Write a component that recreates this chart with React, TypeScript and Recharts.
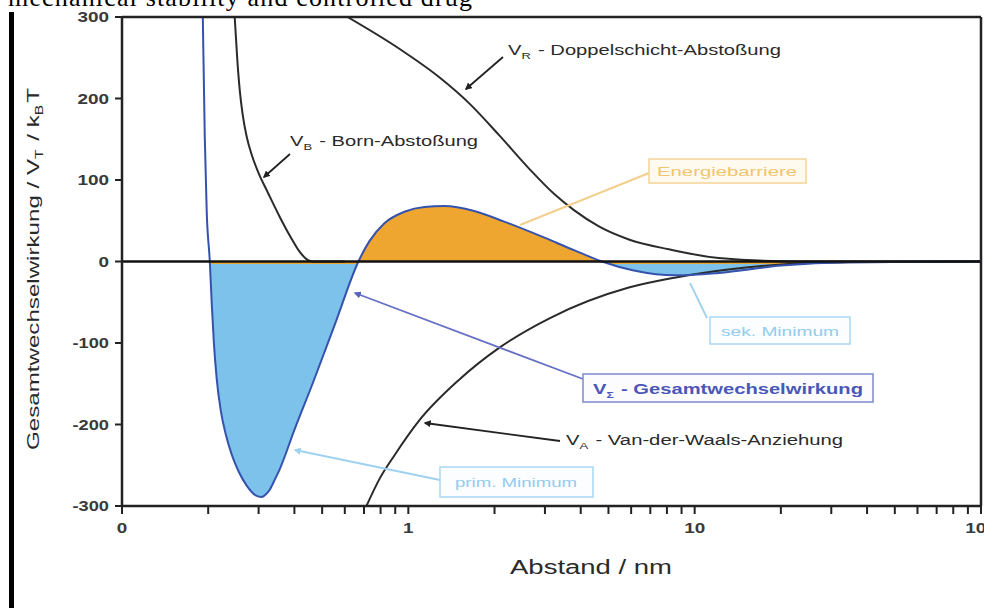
import React from "react";
import { ComposedChart, Line, Area, XAxis, YAxis, ReferenceLine } from "recharts";

const W = 984;
const H = 608;
const FONT = "'Liberation Sans', Arial, Helvetica, sans-serif";

// distance axis (nm, log) and energy axis (V/kT)
const xTicks = [
  0.1, 0.2, 0.3, 0.4, 0.5, 0.6, 0.7, 0.8, 0.9,
  1, 2, 3, 4, 5, 6, 7, 8, 9,
  10, 20, 30, 40, 50, 60, 70, 80, 90, 100,
];
const xTickLabels: Record<number, string> = { 0.1: "0", 1: "1", 10: "10", 100: "100" };
const yTicks = [-300, -200, -100, 0, 100, 200, 300];

// V_B - Born repulsion
const bornX = [0.2475, 0.2527, 0.2578, 0.264, 0.2726, 0.2838, 0.3002, 0.3227, 0.3553, 0.388, 0.4171, 0.4447, 0.4667, 0.6];
const bornY = [300, 248, 210, 180, 153, 131, 108, 85, 55, 30, 12, 2, 0, 0];

// V_R - double layer repulsion
const repX = [0.613, 0.93, 1.283, 1.632, 2.075, 2.64, 3.226, 3.788, 4.629, 5.889, 8.118, 12.12, 23.03, 100];
const repY = [300, 261, 226, 194, 155, 114, 83, 63, 43, 27, 15, 4.3, 0, 0];

// V_A - van der Waals attraction
const vdwX = [0.714, 0.7924, 0.8938, 1.092, 1.505, 2.075, 3.099, 5.889, 8.587, 13.1, 20.1, 34.4, 100];
const vdwY = [-300, -267, -238, -195, -145, -106, -70, -32, -19.6, -9.8, -3.7, -1, 0];

// V_T - total interaction
const totalX = [
  0.1915, 0.1946, 0.1977, 0.2026, 0.2058, 0.2092, 0.2143, 0.2213, 0.2303, 0.2417,
  0.2557, 0.2726, 0.293, 0.3075, 0.3174, 0.328, 0.3413, 0.3553, 0.4007, 0.4629,
  0.5568, 0.6694, 0.7313, 0.8249, 0.9684, 1.137, 1.335, 1.698, 2.16, 2.861,
  3.788, 4.742, 6.13, 8.587, 12.12, 20.1, 34.4, 100,
];
const totalY = [
  300, 152, 60, 0, -52, -98, -145, -183, -212, -237,
  -258, -275, -287, -289, -286, -280, -268, -255, -206, -150,
  -75, 0, 25, 47, 61, 67, 68, 62, 49, 32,
  14, 0, -11, -17, -14, -5, -1, 0,
];

const rows = (xs: number[], ys: number[]) => xs.map((x, i) => ({ x, y: ys[i] }));
const born = rows(bornX, bornY);
const repulsion = rows(repX, repY);
const vdw = rows(vdwX, vdwY);
const total = rows(totalX, totalY);
const totalFill = total.filter((p) => p.x >= 0.2026);

const labelWidth = (s: string) => s.replace("-", "").length * 10.5 + (s.startsWith("-") ? 5 : 0);

const XTick = (props: any) => {
  const { x, y, payload } = props;
  const label = xTickLabels[payload.value];
  if (!label) return null;
  return (
    <text x={x} y={y} dy={19} textAnchor="middle" fontSize={14} fontWeight="bold" fill="#3a3a3a" fontFamily={FONT}
      textLength={labelWidth(label)} lengthAdjust="spacingAndGlyphs">
      {label}
    </text>
  );
};

const YTick = (props: any) => {
  const { x, y, payload } = props;
  const label = String(payload.value);
  return (
    <text x={x} y={y} dy={5} textAnchor="end" fontSize={14} fontWeight="bold" fill="#3a3a3a" fontFamily={FONT}
      textLength={labelWidth(label)} lengthAdjust="spacingAndGlyphs">
      {label}
    </text>
  );
};

const Sub = ({ children, size = 9 }: { children: string; size?: number }) => (
  <>
    <tspan dy={4} fontSize={size}>{children}</tspan>
    <tspan dy={-4}>{"\u200a"}</tspan>
  </>
);

export default function App() {
  return (
    <div style={{ position: "absolute", left: 0, top: 0, width: W, height: H, background: "#fff", overflow: "hidden" }}>
      <ComposedChart width={W} height={H} margin={{ top: 17, right: 3, left: 62, bottom: 72 }}>
        <defs>
          <linearGradient id="vtFill" gradientUnits="userSpaceOnUse" x1={0} y1={0} x2={0} y2={H}>
            <stop offset={264 / H} stopColor="#efa630" />
            <stop offset={264 / H} stopColor="#7cc2ea" />
          </linearGradient>
        </defs>
        <XAxis
          dataKey="x"
          type="number"
          scale="log"
          domain={[0.1, 100]}
          allowDataOverflow
          ticks={xTicks}
          interval={0}
          height={30}
          tickSize={8}
          tickMargin={0}
          axisLine={{ stroke: "#222", strokeWidth: 2.5 }}
          tickLine={{ stroke: "#222", strokeWidth: 2 }}
          tick={(p: any) => <XTick {...p} />}
        />
        <YAxis
          dataKey="y"
          type="number"
          domain={[-300, 300]}
          allowDataOverflow
          ticks={yTicks}
          width={60}
          tickSize={7}
          tickMargin={6}
          axisLine={{ stroke: "#222", strokeWidth: 2.5 }}
          tickLine={{ stroke: "#222", strokeWidth: 2 }}
          tick={(p: any) => <YTick {...p} />}
        />
        <Area
          data={totalFill}
          dataKey="y"
          type="monotone"
          baseValue={0}
          stroke="none"
          fill="url(#vtFill)"
          fillOpacity={1}
          isAnimationActive={false}
        />
        <Line data={born} dataKey="y" type="monotone" stroke="#2b2b2b" strokeWidth={2} dot={false} isAnimationActive={false} />
        <Line data={repulsion} dataKey="y" type="monotone" stroke="#2b2b2b" strokeWidth={2} dot={false} isAnimationActive={false} />
        <Line data={vdw} dataKey="y" type="monotone" stroke="#2b2b2b" strokeWidth={2} dot={false} isAnimationActive={false} />
        <Line data={total} dataKey="y" type="monotone" stroke="#3552ad" strokeWidth={2} dot={false} isAnimationActive={false} />
        <ReferenceLine y={0} stroke="#111" strokeWidth={2.5} />
        <ReferenceLine y={300} stroke="#222" strokeWidth={2.5} />
        <ReferenceLine x={100} stroke="#222" strokeWidth={2.5} />
      </ComposedChart>

      <svg width={W} height={H} style={{ position: "absolute", left: 0, top: 0, pointerEvents: "none" }} fontFamily={FONT}>
        <defs>
          <marker id="arBlack" viewBox="0 0 10 10" refX="8" refY="5" markerWidth="4" markerHeight="4" orient="auto">
            <path d="M0,0 L10,5 L0,10 z" fill="#222" />
          </marker>
          <marker id="arBlue" viewBox="0 0 10 10" refX="8" refY="5" markerWidth="4" markerHeight="4" orient="auto">
            <path d="M0,0 L10,5 L0,10 z" fill="#5a64c0" />
          </marker>
          <marker id="arLight" viewBox="0 0 10 10" refX="8" refY="5" markerWidth="4" markerHeight="4" orient="auto">
            <path d="M0,0 L10,5 L0,10 z" fill="#9fd2f0" />
          </marker>
        </defs>

        {/* page fragment */}
        <text x={8} y={6} fontFamily="'Liberation Serif', 'Times New Roman', serif" fontSize={26} textLength={464} lengthAdjust="spacing">
          mechanical stability and controlled drug
        </text>
        <rect x={9} y={12} width={5} height={H - 12} fill="#000" />

        {/* axis titles */}
        <text transform="translate(39,269) rotate(-90)" textAnchor="middle" fontSize={17} fill="#2a2a2a" textLength={362} lengthAdjust="spacingAndGlyphs">
          Gesamtwechselwirkung / V<Sub size={11}>T</Sub> / k<Sub size={11}>B</Sub>T
        </text>
        <text x={591} y={574} textAnchor="middle" fontSize={20} fill="#2a2a2a" textLength={162} lengthAdjust="spacingAndGlyphs">
          Abstand / nm
        </text>

        {/* V_R */}
        <line x1={503} y1={57} x2={466} y2={89} stroke="#222" strokeWidth={1.8} markerEnd="url(#arBlack)" />
        <text x={508} y={55} fontSize={14} fill="#2a2a2a" textLength={273} lengthAdjust="spacingAndGlyphs">
          V<Sub>R</Sub> - Doppelschicht-Abstoßung
        </text>

        {/* V_B */}
        <line x1={290} y1={154} x2={264} y2={177} stroke="#222" strokeWidth={1.8} markerEnd="url(#arBlack)" />
        <text x={290} y={146} fontSize={14} fill="#2a2a2a" textLength={188} lengthAdjust="spacingAndGlyphs">
          V<Sub>B</Sub> - Born-Abstoßung
        </text>

        {/* Energiebarriere */}
        <line x1={649} y1={173} x2={520} y2={225} stroke="#f4cf8c" strokeWidth={2} />
        <rect x={649} y={159} width={157} height={24} fill="#fffaf0" stroke="#f3d49a" strokeWidth={1.5} />
        <text x={727} y={176} textAnchor="middle" fontSize={13} fill="#f1c46e" textLength={140} lengthAdjust="spacingAndGlyphs">
          Energiebarriere
        </text>

        {/* sek. Minimum */}
        <line x1={707} y1={318} x2={690} y2={283} stroke="#9fd2f0" strokeWidth={1.8} />
        <rect x={710} y={317} width={140} height={27} fill="#fbfdff" stroke="#a9d8f2" strokeWidth={1.5} />
        <text x={780} y={336} textAnchor="middle" fontSize={13} fill="#92ccef" textLength={118} lengthAdjust="spacingAndGlyphs">
          sek. Minimum
        </text>

        {/* V_Sigma */}
        <line x1={583} y1={379} x2={355} y2={293} stroke="#6670c4" strokeWidth={1.8} markerEnd="url(#arBlue)" />
        <rect x={583} y={374} width={290} height={28} fill="#fcfcff" stroke="#7f88d0" strokeWidth={1.5} />
        <text x={593} y={394} fontSize={15} fontWeight="bold" fill="#4a57b8" textLength={270} lengthAdjust="spacingAndGlyphs">
          V<Sub>Σ</Sub> - Gesamtwechselwirkung
        </text>

        {/* V_A */}
        <line x1={560} y1={441} x2={425} y2={423} stroke="#222" strokeWidth={1.8} markerEnd="url(#arBlack)" />
        <text x={566} y={445} fontSize={14} fill="#2a2a2a" textLength={277} lengthAdjust="spacingAndGlyphs">
          V<Sub>A</Sub> - Van-der-Waals-Anziehung
        </text>

        {/* prim. Minimum */}
        <line x1={440} y1={480} x2={295} y2={450} stroke="#9fd2f0" strokeWidth={1.8} markerEnd="url(#arLight)" />
        <rect x={440} y={467} width={153} height={30} fill="#fbfdff" stroke="#a9d8f2" strokeWidth={1.5} />
        <text x={516} y={487} textAnchor="middle" fontSize={13} fill="#92ccef" textLength={122} lengthAdjust="spacingAndGlyphs">
          prim. Minimum
        </text>
      </svg>
    </div>
  );
}
